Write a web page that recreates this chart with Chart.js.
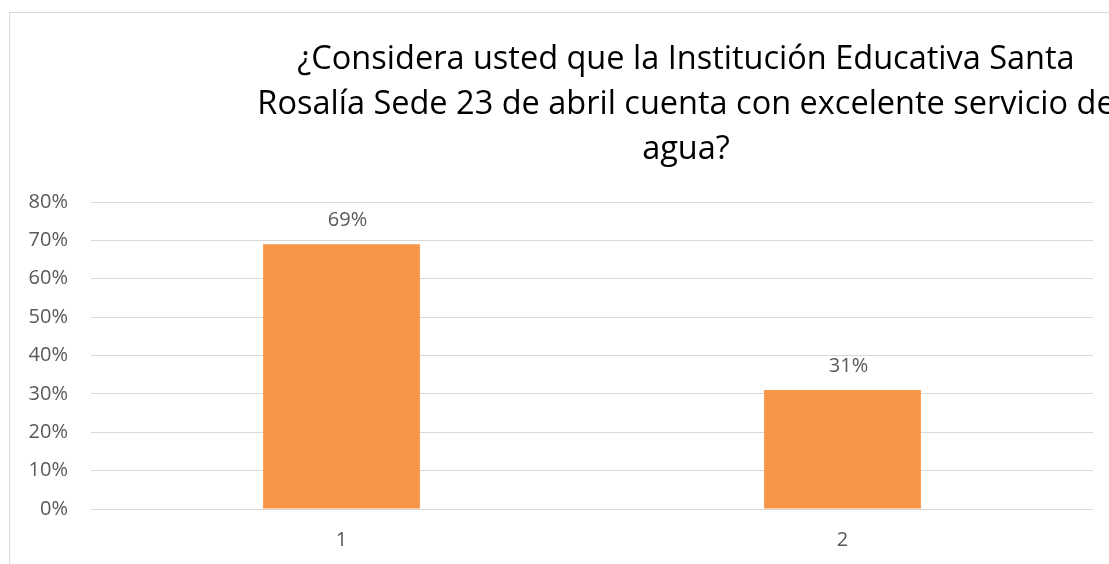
<!DOCTYPE html>
<html>
<head>
<meta charset="utf-8">
<script src="https://cdn.jsdelivr.net/npm/chart.js@4.4.1/dist/chart.umd.min.js"></script>
<style>
  html, body { margin: 0; padding: 0; background: #fff; overflow: hidden; }
  #wrap { width: 1109px; height: 564px; position: relative; }
</style>
</head>
<body>
<div id="wrap"><canvas id="chart" width="1109" height="564"></canvas></div>
<script>
// Chart data
const categories = ['1', '2'];
const percentages = [69, 31];
const yTicks = [0, 10, 20, 30, 40, 50, 60, 70, 80];
const titleLines = [
    '¿Considera usted que la Institución Educativa Santa',
    'Rosalía Sede 23 de abril cuenta con excelente servicio de',
    'agua?'
];

const FONT = "'Open Sans', 'Noto Sans', sans-serif";

// Frame around the chart (the original is cropped on the right and bottom)
const framePlugin = {
    id: 'frame',
    beforeDraw(chart) {
        const ctx = chart.ctx;
        ctx.save();
        ctx.strokeStyle = '#d9d9d9';
        ctx.lineWidth = 1;
        ctx.strokeRect(9.5, 12.5, 2000, 2000);
        ctx.restore();
    }
};

// Title drawn off-centre, like the cropped original
const titlePlugin = {
    id: 'offTitle',
    afterDraw(chart) {
        const ctx = chart.ctx;
        ctx.save();
        ctx.fillStyle = '#000000';
        ctx.font = "32.5px " + FONT;
        ctx.textAlign = 'center';
        ctx.textBaseline = 'middle';
        titleLines.forEach((line, i) => {
            ctx.fillText(line, 686, 60 + i * 45);
        });
        ctx.restore();
    }
};

// Value labels above the bars
const valueLabels = {
    id: 'valueLabels',
    afterDatasetsDraw(chart) {
        const ctx = chart.ctx;
        const meta = chart.getDatasetMeta(0);
        ctx.save();
        ctx.fillStyle = '#595959';
        ctx.font = "20px " + FONT;
        ctx.textAlign = 'center';
        ctx.textBaseline = 'middle';
        meta.data.forEach((bar, i) => {
            ctx.fillText(percentages[i] + '%', bar.x + 6, bar.y - 24);
        });
        ctx.restore();
    }
};

new Chart(document.getElementById('chart').getContext('2d'), {
    type: 'bar',
    data: {
        labels: categories,
        datasets: [{
            data: percentages,
            backgroundColor: '#f79646',
            borderWidth: 0,
            categoryPercentage: 1,
            barPercentage: 0.313
        }]
    },
    options: {
        responsive: false,
        animation: false,
        layout: { padding: { top: 202, right: 16, left: 0, bottom: 0 } },
        plugins: {
            legend: { display: false },
            title: { display: false },
            tooltip: { enabled: false }
        },
        scales: {
            x: {
                grid: { display: false, drawTicks: false },
                border: { display: false },
                ticks: { color: '#595959', font: { family: FONT, size: 20 }, padding: 19 },
                afterFit(scale) { scale.height = 55; }
            },
            y: {
                min: 0,
                max: 80,
                afterBuildTicks(scale) { scale.ticks = yTicks.map(v => ({ value: v })); },
                grid: { color: '#d9d9d9', lineWidth: 1, drawTicks: false },
                border: { display: false },
                ticks: {
                    color: '#595959',
                    font: { family: FONT, size: 20 },
                    padding: 23,
                    callback: v => v + '%'
                },
                afterFit(scale) { scale.width = 91; }
            }
        }
    },
    plugins: [framePlugin, titlePlugin, valueLabels]
});
</script>
</body>
</html>
